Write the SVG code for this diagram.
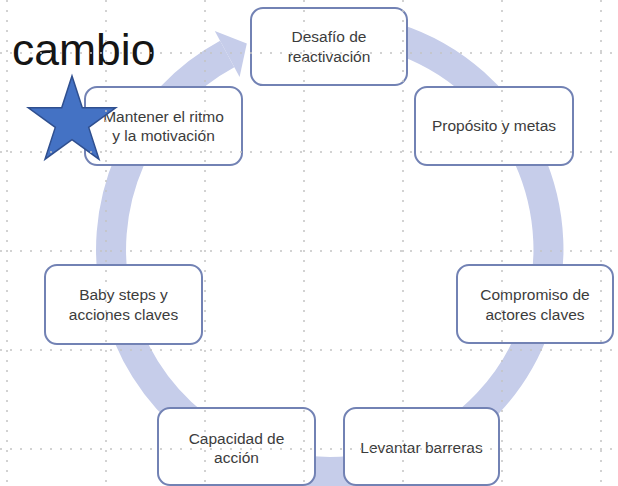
<svg xmlns="http://www.w3.org/2000/svg" width="618" height="486" viewBox="0 0 618 486">
  <style>
    .box { fill: #ffffff; stroke: #7282b4; stroke-width: 2; }
    .lbl { font-family: "Liberation Sans", Arial, sans-serif; font-size: 15.5px; fill: #3c3c3c; text-anchor: middle; }
    .grid line { stroke: #c4c4c4; stroke-width: 1.5; stroke-dasharray: 2 8; }
  </style>
  <rect width="618" height="486" fill="#ffffff"/>

  <g id="connectors">
    <path d="M 310.9 28.8 A 219 222 0 1 1 330 472 A 219 222 0 0 1 227.2 54.0" fill="none" stroke="#c6cdea" stroke-width="30"/>
    <polygon points="214.8,31 246.8,43.5 239.6,77" fill="#c6cdea"/>
  </g>

  <g id="desafio">
    <rect class="box" x="251" y="8" width="156" height="77" rx="12"/>
    <text class="lbl" x="329" y="42">Desafío de</text>
    <text class="lbl" x="329" y="61.5">reactivación</text>
  </g>
  <g id="proposito">
    <rect class="box" x="415" y="87" width="158" height="78" rx="12"/>
    <text class="lbl" x="494" y="131">Propósito y metas</text>
  </g>
  <g id="compromiso">
    <rect class="box" x="457" y="265" width="156" height="78" rx="12"/>
    <text class="lbl" x="535" y="300">Compromiso de</text>
    <text class="lbl" x="535" y="319.5">actores claves</text>
  </g>
  <g id="levantar">
    <rect class="box" x="344" y="408" width="155" height="77" rx="12"/>
    <text class="lbl" x="421.5" y="452.5">Levantar barreras</text>
  </g>
  <g id="capacidad">
    <rect class="box" x="158" y="408" width="157" height="77" rx="12"/>
    <text class="lbl" x="236.5" y="443.5">Capacidad de</text>
    <text class="lbl" x="236.5" y="463">acción</text>
  </g>
  <g id="baby">
    <rect class="box" x="45" y="265" width="157" height="79" rx="12"/>
    <text class="lbl" x="123.5" y="300">Baby steps y</text>
    <text class="lbl" x="123.5" y="319.5">acciones claves</text>
  </g>
  <g id="mantener">
    <rect class="box" x="85" y="87" width="157" height="78" rx="12"/>
    <text class="lbl" x="163.5" y="121.5">Mantener el ritmo</text>
    <text class="lbl" x="163.5" y="141">y la motivación</text>
  </g>

  <g id="cambio">
    <text x="12" y="65" font-family="'Liberation Sans', Arial, sans-serif" font-size="44.5" fill="#151515">cambio</text>
  </g>

  <g id="star">
    <polygon points="72,76 82.3,107.8 115.7,107.8 88.7,127.4 99,159.2 72,139.6 45,159.2 55.3,127.4 28.3,107.8 61.7,107.8" fill="#4472c4" stroke="#2f4f8f" stroke-width="1.5" stroke-linejoin="miter"/>
  </g>

  <g class="grid">
    <line x1="7" y1="0" x2="7" y2="486"/>
    <line x1="106" y1="0" x2="106" y2="486"/>
    <line x1="205" y1="0" x2="205" y2="486"/>
    <line x1="304" y1="0" x2="304" y2="486"/>
    <line x1="403" y1="0" x2="403" y2="486"/>
    <line x1="502" y1="0" x2="502" y2="486"/>
    <line x1="601" y1="0" x2="601" y2="486"/>
    <line x1="0" y1="53" x2="618" y2="53"/>
    <line x1="0" y1="152" x2="618" y2="152"/>
    <line x1="0" y1="251" x2="618" y2="251"/>
    <line x1="0" y1="350" x2="618" y2="350"/>
    <line x1="0" y1="449" x2="618" y2="449"/>
  </g>
</svg>
